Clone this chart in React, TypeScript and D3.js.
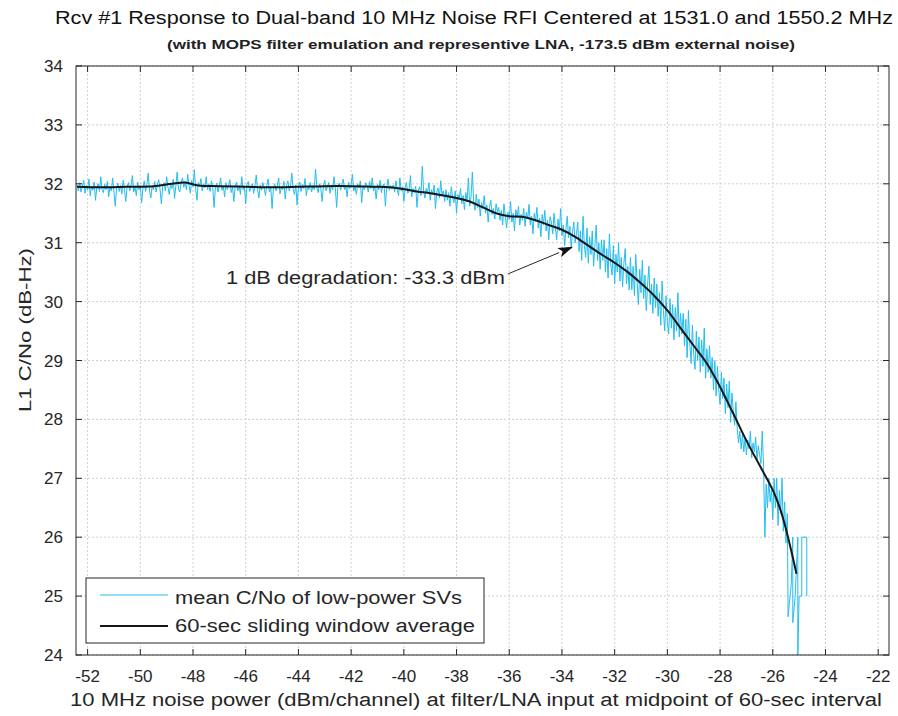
import React from "react";
import * as d3 from "d3";

const W = 898;
const H = 716;

const titleText = "Rcv #1 Response to Dual-band 10 MHz Noise RFI Centered at 1531.0 and 1550.2 MHz";
const subtitleText = "(with MOPS filter emulation and representive LNA, -173.5 dBm external noise)";
const xLabel = "10 MHz noise power (dBm/channel) at filter/LNA input at midpoint of 60-sec interval";
const yLabel = "L1 C/No (dB-Hz)";
const annotationText = "1 dB degradation: -33.3 dBm";
const legendLabels = ["mean C/No of low-power SVs", "60-sec sliding window average"];

const xTicks = [-52, -50, -48, -46, -44, -42, -40, -38, -36, -34, -32, -30, -28, -26, -24, -22];
const yTicks = [24, 25, 26, 27, 28, 29, 30, 31, 32, 33, 34];

// mean C/No samples, regularly spaced in power from noiseStart (one row per dB)
const noiseStart = -52.4;
const noiseStep = 0.05;
const noiseY = [
  31.98, 31.88, 32.02, 31.86, 31.95, 32.06, 31.84, 31.97, 31.9, 32.08, 31.8, 31.96, 31.89, 32.03, 31.72, 31.94, 32.0, 31.87, 32.12, 31.9,
  31.85, 31.99, 31.9, 32.04, 31.78, 31.95, 31.88, 32.1, 31.86, 31.62, 31.93, 32.01, 31.87, 31.97, 31.83, 32.06, 31.9, 31.7, 31.96, 32.02,
  31.88, 31.98, 32.14, 31.86, 31.94, 31.8, 32.03, 31.9, 31.97, 31.68, 31.92, 32.05, 31.87, 31.99, 32.18, 31.88, 31.76, 31.96, 31.9, 32.04,
  31.86, 31.99, 32.07, 31.9, 31.66, 31.96, 32.02, 31.88, 32.12, 31.94, 31.82, 32.0, 31.92, 32.08, 31.75, 31.97, 32.2, 31.91, 31.86, 32.03,
  32.1, 31.94, 32.04, 31.9, 32.16, 31.97, 31.84, 32.06, 31.95, 32.24, 31.92, 31.72, 32.02, 31.96, 32.09, 31.88, 32.0, 31.93, 32.12, 31.9,
  31.99, 31.87, 32.05, 31.93, 31.6, 31.95, 32.01, 31.86, 31.98, 32.1, 31.89, 31.96, 31.78, 32.02, 31.9, 31.97, 32.07, 31.85, 31.94, 31.7,
  31.96, 32.03, 31.88, 31.97, 31.82, 32.12, 31.9, 31.95, 31.66, 31.99, 32.04, 31.87, 31.93, 32.0, 31.84, 31.96, 32.15, 31.9, 31.76, 31.98,
  31.89, 32.02, 31.93, 31.8, 31.97, 32.08, 31.86, 31.95, 31.58, 31.92, 32.0, 31.88, 31.96, 32.1, 31.83, 31.94, 31.9, 32.04, 31.74, 31.97,
  32.05, 31.88, 31.96, 32.18, 31.9, 31.82, 31.98, 31.64, 31.95, 32.03, 31.87, 31.99, 31.92, 32.09, 31.8, 31.96, 31.9, 32.02, 31.86, 31.97,
  31.9, 32.25, 31.94, 31.85, 32.0, 31.92, 31.7, 31.97, 32.06, 31.88, 31.95, 32.02, 31.84, 31.98, 31.9, 32.12, 31.93, 31.6, 31.97, 32.01,
  31.89, 31.99, 32.08, 31.9, 31.96, 31.78, 32.03, 31.92, 31.98, 32.16, 31.88, 31.95, 31.82, 32.0, 31.93, 32.05, 31.68, 31.96, 31.9, 32.02,
  31.97, 31.86, 32.04, 31.92, 32.1, 31.88, 31.95, 31.74, 31.99, 31.9, 32.06, 31.85, 31.96, 32.0, 31.62, 31.94, 32.08, 31.89, 31.97, 31.91,
  31.98, 31.86, 32.05, 31.9, 31.8, 32.1, 31.88, 31.95, 31.7, 31.93, 32.02, 31.84, 31.9, 32.14, 31.78, 31.92, 31.85, 31.96, 31.6, 31.89,
  31.95, 31.8, 32.3, 31.88, 31.76, 31.92, 31.84, 32.02, 31.72, 31.9, 31.82, 31.98, 31.58, 31.86, 31.93, 31.76, 32.05, 31.8, 31.88, 31.7,
  31.9, 31.72, 31.85, 31.62, 31.95, 31.78, 31.68, 31.88, 31.5, 31.82, 31.74, 31.92, 31.66, 31.8, 31.56, 31.85, 31.7, 32.1, 31.62, 31.78,
  32.2, 31.7, 31.55, 31.82, 31.6, 31.74, 31.45, 31.68, 31.58, 31.8, 31.5, 31.64, 31.35, 31.6, 31.72, 31.48, 31.58, 31.4, 31.66, 31.52,
  31.6, 31.38, 31.55, 31.3, 31.66, 31.45, 31.25, 31.52, 31.4, 31.7, 31.35, 31.5, 31.2, 31.56, 31.42, 31.62, 31.3, 31.48, 31.38, 31.58,
  31.28, 31.52, 31.4, 31.65, 31.3, 31.45, 31.15, 31.5, 31.36, 31.6, 31.25, 31.42, 31.1, 31.48, 31.3, 31.55, 31.2, 31.38, 31.05, 31.44,
  31.35, 31.15, 31.5, 31.25, 31.05, 31.4, 31.2, 31.58, 31.12, 31.3, 30.95, 31.22, 31.45, 31.08, 31.28, 30.9, 31.18, 31.35, 31.0, 31.15,
  31.35, 30.85, 31.2, 30.7, 31.45, 30.95, 30.75, 31.25, 30.65, 31.1, 30.8, 31.2, 30.6, 30.95, 31.3, 30.7, 31.0, 30.55, 31.05, 30.7,
  31.05, 30.5, 30.9, 30.4, 31.15, 30.65, 30.45, 30.95, 30.3, 30.8, 30.5, 31.0, 30.35, 30.75, 30.25, 30.65, 30.9, 30.3, 30.6, 30.2,
  30.75, 30.2, 30.6, 30.1, 30.8, 30.35, 29.95, 30.55, 30.15, 30.7, 30.05, 30.45, 29.85, 30.3, 30.6, 29.95, 30.3, 29.8, 30.4, 29.9,
  30.3, 29.75, 30.15, 29.6, 30.35, 29.85, 29.5, 30.1, 29.65, 29.45, 30.05, 29.55, 29.95, 29.35, 29.9, 29.5, 30.15, 29.4, 29.8, 29.45,
  29.8, 29.25, 29.7, 29.05, 29.85, 29.3, 28.95, 29.6, 29.1, 28.85, 29.5, 29.0, 29.4, 28.8, 29.35, 28.9, 29.55, 28.7, 29.2, 28.8,
  29.25, 28.7, 29.05, 28.5, 29.0, 28.4, 28.9, 28.5, 28.25, 28.8, 28.35, 28.7, 28.1, 28.6, 28.2, 28.65, 27.95, 28.45, 28.15, 27.9,
  28.3, 27.85, 27.6, 27.8, 27.5, 27.75, 27.45, 27.7, 27.4, 27.65, 27.5, 27.8, 27.35, 27.6, 27.45, 27.7, 27.3, 27.55, 27.4, 27.25,
  27.8, 27.2, 26.0, 26.9, 26.5, 27.0, 26.6, 26.8, 26.3, 27.0, 26.5, 27.0, 26.2, 26.8, 26.4, 27.0, 26.1, 26.6, 25.9, 26.4,
];

// final quantized samples (power, C/No)
const noiseTail: [number, number][] = [
  [-25.43, 25.4], [-25.42, 24.65], [-25.3, 25.2],
  [-25.24, 26.0], [-25.24, 24.55], [-25.15, 25.0], [-25.05, 26.0],
  [-25.05, 24.0], [-25.0, 25.0], [-24.9, 25.0], [-24.9, 26.0],
  [-24.71, 26.0], [-24.71, 25.0],
];

// 60-sec sliding window average
const avgX = [
  -52.4, -51.5, -50.5, -49.5, -48.8, -48.3, -47.8, -47, -46, -45, -44, -43, -42, -41,
  -40.3, -39.5, -39, -38.5, -38, -37.5, -37, -36.5, -36, -35.5, -35, -34.5, -34, -33.5,
  -33, -32.5, -32, -31.5, -31, -30.5, -30, -29.5, -29, -28.5, -28, -27.5, -27, -26.5,
  -26, -25.75, -25.5, -25.1,
];
const avgY = [
  31.95, 31.94, 31.95, 31.96, 32.0, 32.02, 31.97, 31.96, 31.95, 31.94, 31.95, 31.96, 31.96, 31.95,
  31.93, 31.87, 31.84, 31.8, 31.76, 31.7, 31.6, 31.5, 31.45, 31.44, 31.38, 31.3, 31.22, 31.1,
  30.95, 30.8, 30.66, 30.5, 30.31, 30.1, 29.85, 29.55, 29.25, 28.95, 28.55, 28.1, 27.64, 27.22,
  26.8, 26.52, 26.14, 25.38,
];

const arrowFrom: [number, number] = [-36.05, 30.47];
const arrowTo: [number, number] = [-33.58, 30.93];

const CYAN = "#22bdf0";
const DARK = "#262626";
const FONT = "'Liberation Sans', Arial, sans-serif";

export default function App() {
  const left = 76, right = 889, top = 66, bottom = 655;
  const x = d3.scaleLinear().domain([-52.44, -21.59]).range([left, right]);
  const y = d3.scaleLinear().domain([24, 34]).range([bottom, top]);

  const noisePts: [number, number][] = noiseY.map((v, i) => [noiseStart + i * noiseStep, v]);
  const allNoise = noisePts.concat(noiseTail);
  const line = d3.line<[number, number]>().x((d) => x(d[0])).y((d) => y(d[1]));
  const avgPts: [number, number][] = avgX.map((v, i) => [v, avgY[i]]);
  const avgLine = d3.line<[number, number]>().x((d) => x(d[0])).y((d) => y(d[1])).curve(d3.curveCatmullRom.alpha(0.5));

  const ax0 = x(arrowFrom[0]), ay0 = y(arrowFrom[1]);
  const ax1 = x(arrowTo[0]), ay1 = y(arrowTo[1]);
  const ang = Math.atan2(ay1 - ay0, ax1 - ax0);
  const hl = 15, hw = 5;
  const bx = ax1 - hl * Math.cos(ang), by = ay1 - hl * Math.sin(ang);
  const head = [
    [ax1, ay1],
    [bx + hw * Math.sin(ang), by - hw * Math.cos(ang)],
    [ax1 - hl * 0.75 * Math.cos(ang), ay1 - hl * 0.75 * Math.sin(ang)],
    [bx - hw * Math.sin(ang), by + hw * Math.cos(ang)],
  ].map((p) => p.join(",")).join(" ");

  const tick = 6;

  return (
    <svg width={W} height={H} style={{ position: "absolute", left: 0, top: 0, background: "#fff" }} fontFamily={FONT}>
      <rect x={0} y={0} width={W} height={H} fill="#fff" />
      <text x={474} y={24} textAnchor="middle" fontSize={18} fill="#111" textLength={838} lengthAdjust="spacingAndGlyphs">{titleText}</text>
      <text x={481} y={49} textAnchor="middle" fontSize={13.5} fontWeight="bold" fill="#222" textLength={628} lengthAdjust="spacingAndGlyphs">{subtitleText}</text>

      <g stroke="#cfcfcf" strokeWidth={1} strokeDasharray="2,2">
        {xTicks.map((t) => (
          <line key={"gx" + t} x1={x(t)} x2={x(t)} y1={top} y2={bottom} />
        ))}
        {yTicks.map((t) => (
          <line key={"gy" + t} x1={left} x2={right} y1={y(t)} y2={y(t)} />
        ))}
      </g>

      <path d={line(allNoise) || ""} fill="none" stroke={CYAN} strokeWidth={1} />
      <path d={avgLine(avgPts) || ""} fill="none" stroke="#161616" strokeWidth={2} />

      <rect x={left} y={top} width={right - left} height={bottom - top} fill="none" stroke={DARK} strokeWidth={1} />
      <g stroke={DARK} strokeWidth={1}>
        {xTicks.map((t) => (
          <g key={"tx" + t}>
            <line x1={x(t)} x2={x(t)} y1={bottom} y2={bottom - tick} />
            <line x1={x(t)} x2={x(t)} y1={top} y2={top + tick} />
          </g>
        ))}
        {yTicks.map((t) => (
          <g key={"ty" + t}>
            <line x1={left} x2={left + tick} y1={y(t)} y2={y(t)} />
            <line x1={right} x2={right - tick} y1={y(t)} y2={y(t)} />
          </g>
        ))}
      </g>
      <g fill={DARK} fontSize={17}>
        {xTicks.map((t) => (
          <text key={"lx" + t} x={x(t)} y={682} textAnchor="middle">{t}</text>
        ))}
        {yTicks.map((t) => (
          <text key={"ly" + t} x={63} y={y(t) + 6} textAnchor="end">{t}</text>
        ))}
      </g>
      <text x={476} y={706} textAnchor="middle" fontSize={18} fill={DARK} textLength={812} lengthAdjust="spacingAndGlyphs">{xLabel}</text>
      <text transform={`translate(31,330) rotate(-90)`} textAnchor="middle" fontSize={17} fill={DARK} textLength={164} lengthAdjust="spacingAndGlyphs">{yLabel}</text>

      <text x={226} y={284} fontSize={18} fill={DARK} textLength={279} lengthAdjust="spacingAndGlyphs">{annotationText}</text>
      <line x1={ax0} y1={ay0} x2={bx} y2={by} stroke={DARK} strokeWidth={1} />
      <polygon points={head} fill="#111" />

      <rect x={86} y={578} width={398} height={65} fill="#fff" stroke={DARK} strokeWidth={1} />
      <line x1={100} x2={168} y1={595} y2={595} stroke={CYAN} strokeWidth={1} />
      <line x1={100} x2={168} y1={626} y2={626} stroke="#161616" strokeWidth={2} />
      <text x={175} y={604} fontSize={18} fill={DARK} textLength={287} lengthAdjust="spacingAndGlyphs">{legendLabels[0]}</text>
      <text x={175} y={632} fontSize={18} fill={DARK} textLength={300} lengthAdjust="spacingAndGlyphs">{legendLabels[1]}</text>
    </svg>
  );
}
